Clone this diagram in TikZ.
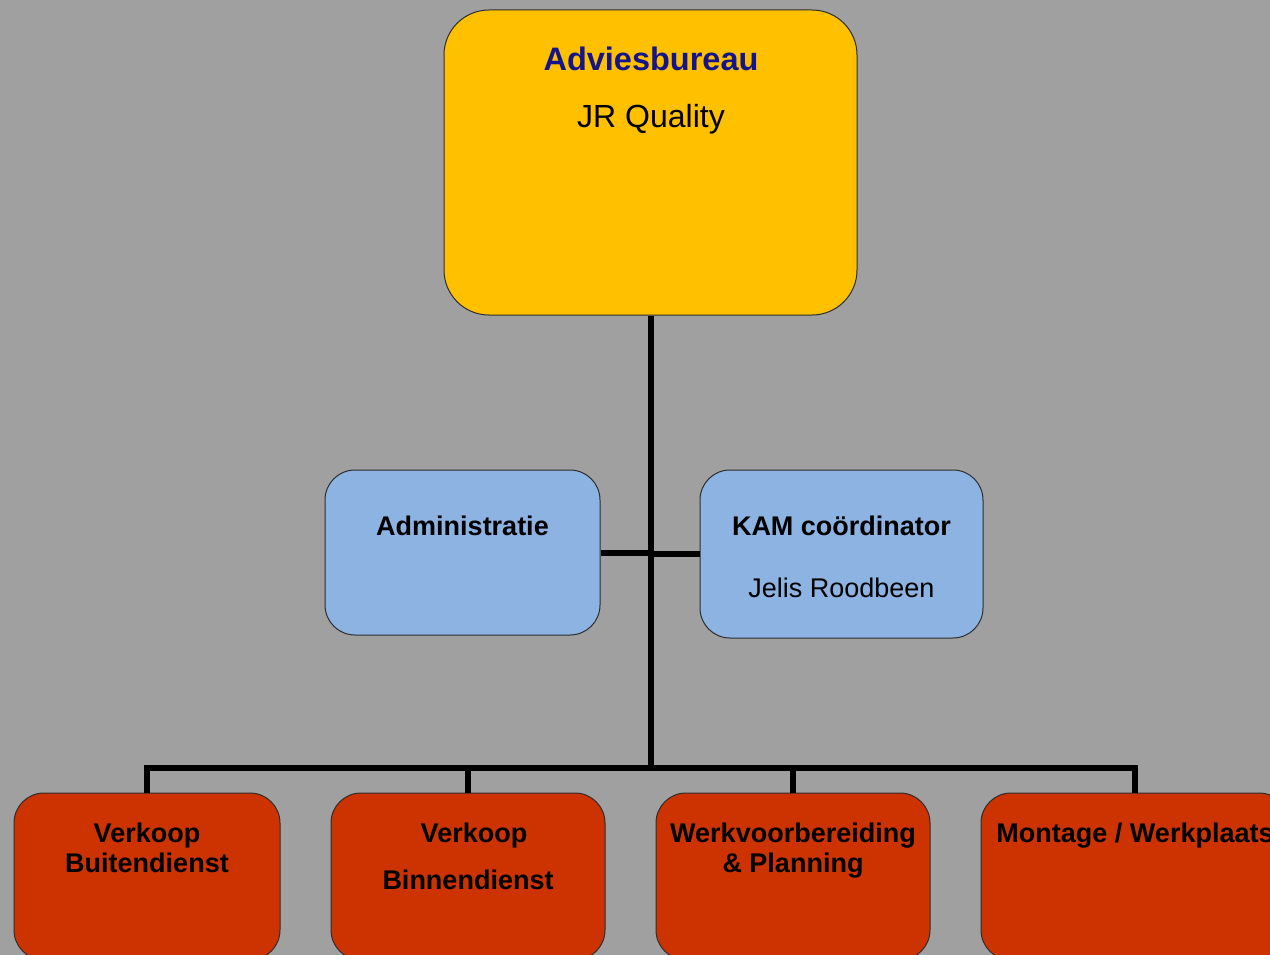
\documentclass[tikz,border=0pt]{standalone}
\usepackage{fontspec}
\setmainfont{Liberation Sans}

\definecolor{bggray}{RGB}{160,160,160}
\definecolor{mainyellow}{RGB}{255,192,0}
\definecolor{staffblue}{RGB}{141,179,226}
\definecolor{deptred}{RGB}{204,51,0}
\definecolor{boxline}{RGB}{45,45,45}
\definecolor{titlenavy}{RGB}{20,20,140}

\begin{document}
\begin{tikzpicture}[
    x=1pt, y=-1pt,
    orgbox/.style={draw=boxline, line width=1pt, rounded corners=30pt, inner sep=0pt},
    mainbox/.style={orgbox, fill=mainyellow, rounded corners=45pt,
        minimum width=413pt, minimum height=305pt},
    staffbox/.style={orgbox, fill=staffblue},
    deptbox/.style={orgbox, fill=deptred, minimum height=167pt},
    lbl/.style={anchor=base, inner sep=0pt, font=\fontsize{27}{30}\selectfont\bfseries},
    person/.style={lbl, font=\fontsize{27}{30}\selectfont},
    link/.style={line width=6pt, line join=miter}
]
    % --- canvas ---
    \clip (0,0) rectangle (1270,955);
    \fill[bggray] (0,0) rectangle (1270,955);

    % --- top of the chart ---
    \node[mainbox] (top) at (650.5,162.5) {};
    \node[lbl, text=titlenavy, font=\fontsize{32.5}{36}\selectfont\bfseries] (toptitle) at (651,71) {Adviesbureau};
    \node[lbl, font=\fontsize{32}{36}\selectfont] (topname) at (651,128) {JR Quality};

    % --- staff boxes ---
    \node[staffbox, minimum width=275pt, minimum height=165pt] (admin) at (462.5,552.5) {};
    \node[lbl] (admintitle) at (462.5,535) {Administratie};

    \node[staffbox, minimum width=283pt, minimum height=168pt] (kam) at (841.5,554) {};
    \node[lbl] (kamtitle) at (841.5,535) {KAM coördinator};
    \node[person] (kamname) at (841.5,597) {Jelis Roodbeen};

    % --- departments ---
    \node[deptbox, minimum width=266pt] (vbu) at (147,876.5) {};
    \node[lbl] (vbutitle) at (147,842) {Verkoop};
    \node[lbl] (vbusub) at (147,872) {Buitendienst};

    \node[deptbox, minimum width=274pt] (vbi) at (468,876.5) {};
    \node[lbl] (vbititle) at (474,842) {Verkoop};
    \node[lbl] (vbisub) at (468,889) {Binnendienst};

    \node[deptbox, minimum width=274pt] (wvb) at (793,876.5) {};
    \node[lbl] (wvbtitle) at (793,842) {Werkvoorbereiding};
    \node[lbl] (wvbsub) at (793,872) {\& Planning};

    \node[deptbox, minimum width=308pt] (mon) at (1135,876.5) {};
    \node[lbl] (montitle) at (1135,842) {Montage / Werkplaats};

    % --- connectors ---
    \coordinate (bus) at (650.5,768);
    \draw[link] (top.south) -- (bus);
    \draw[link] (admin.east) -- (admin.east -| top.south);
    \draw[link] (kam.west) -- (kam.west -| top.south);
    \foreach \dept in {vbu,vbi,wvb,mon}
        \draw[link] (\dept.north) |- (bus);
\end{tikzpicture}
\end{document}
